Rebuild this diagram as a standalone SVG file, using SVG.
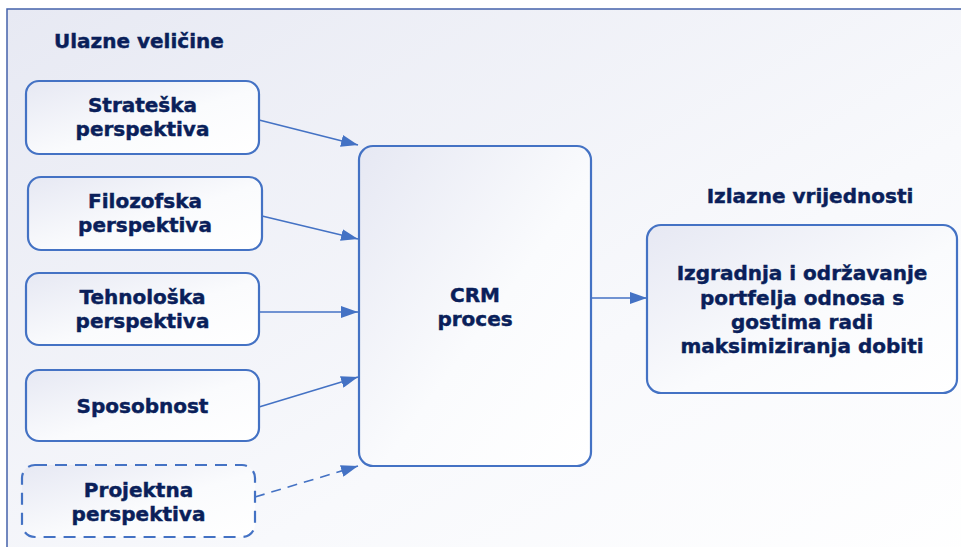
<svg xmlns="http://www.w3.org/2000/svg" width="961" height="547" viewBox="0 0 961 547">
<defs>
<linearGradient id="bg" x1="0" y1="0" x2="1" y2="1">
<stop offset="0" stop-color="#e7e9f3"/>
<stop offset="0.6" stop-color="#f8f9fc"/>
<stop offset="1" stop-color="#ffffff"/>
</linearGradient>
<linearGradient id="nodefill" x1="0" y1="0" x2="1" y2="1">
<stop offset="0" stop-color="#e6e8f3"/>
<stop offset="0.55" stop-color="#fafbfd"/>
<stop offset="1" stop-color="#ffffff"/>
</linearGradient>
<marker id="arrow" markerUnits="userSpaceOnUse" markerWidth="18" markerHeight="12" refX="17" refY="6" orient="auto">
<path d="M0,0 L17,6 L0,12 Z" fill="#4472c4"/>
</marker>
<style>
.box{fill:url(#nodefill);stroke:#4472c4;stroke-width:2.2}
.dashed{stroke-dasharray:12 8}
.t{font-family:"DejaVu Sans",Verdana,sans-serif;font-weight:bold;font-size:20px;fill:#0a1f5a;stroke:#0a1f5a;stroke-width:0.45;text-anchor:middle}
.h{font-family:"DejaVu Sans",Verdana,sans-serif;font-weight:bold;font-size:20px;fill:#0a1f5a;stroke:#0a1f5a;stroke-width:0.45}
.conn{stroke:#4472c4;stroke-width:1.6;fill:none;marker-end:url(#arrow)}
</style>
</defs>
<rect x="0" y="0" width="961" height="547" fill="#ffffff"/>
<rect x="7" y="9" width="980" height="570" fill="url(#bg)" stroke="#4462aa" stroke-width="1.5"/>
<text class="h" x="54" y="48">Ulazne veličine</text>
<text class="t" x="810" y="203">Izlazne vrijednosti</text>

<g id="connectors">
<path class="conn" d="M259,120 L358,145"/>
<path class="conn" d="M262,216 L358,239"/>
<path class="conn" d="M259,312 L358,312"/>
<path class="conn" d="M259,407 L358,377"/>
<path class="conn" d="M255,497 L358,466" stroke-dasharray="10 7"/>
<path class="conn" d="M591,298 L647,298"/>
</g>

<g id="strateska">
<rect class="box" x="26" y="81" width="233" height="73" rx="13"/>
<text class="t" x="142.5" y="112">Strateška</text>
<text class="t" x="142.5" y="136">perspektiva</text>
</g>
<g id="filozofska">
<rect class="box" x="28" y="177" width="234" height="73" rx="13"/>
<text class="t" x="145" y="208">Filozofska</text>
<text class="t" x="145" y="232">perspektiva</text>
</g>
<g id="tehnoloska">
<rect class="box" x="26" y="273" width="233" height="72" rx="13"/>
<text class="t" x="142.5" y="304">Tehnološka</text>
<text class="t" x="142.5" y="328">perspektiva</text>
</g>
<g id="sposobnost">
<rect class="box" x="26" y="370" width="233" height="71" rx="13"/>
<text class="t" x="142.5" y="413">Sposobnost</text>
</g>
<g id="projektna">
<rect class="box dashed" x="22" y="465" width="233" height="72" rx="13"/>
<text class="t" x="138.5" y="497">Projektna</text>
<text class="t" x="138.5" y="521">perspektiva</text>
</g>
<g id="crm">
<rect class="box" x="359" y="146" width="232" height="320" rx="14"/>
<text class="t" x="475" y="302">CRM</text>
<text class="t" x="475" y="326">proces</text>
</g>
<g id="output">
<rect class="box" x="647" y="225" width="310" height="168" rx="14"/>
<text class="t" x="802" y="280">Izgradnja i održavanje</text>
<text class="t" x="802" y="305">portfelja odnosa s</text>
<text class="t" x="802" y="329">gostima radi</text>
<text class="t" x="802" y="353">maksimiziranja dobiti</text>
</g>
</svg>
